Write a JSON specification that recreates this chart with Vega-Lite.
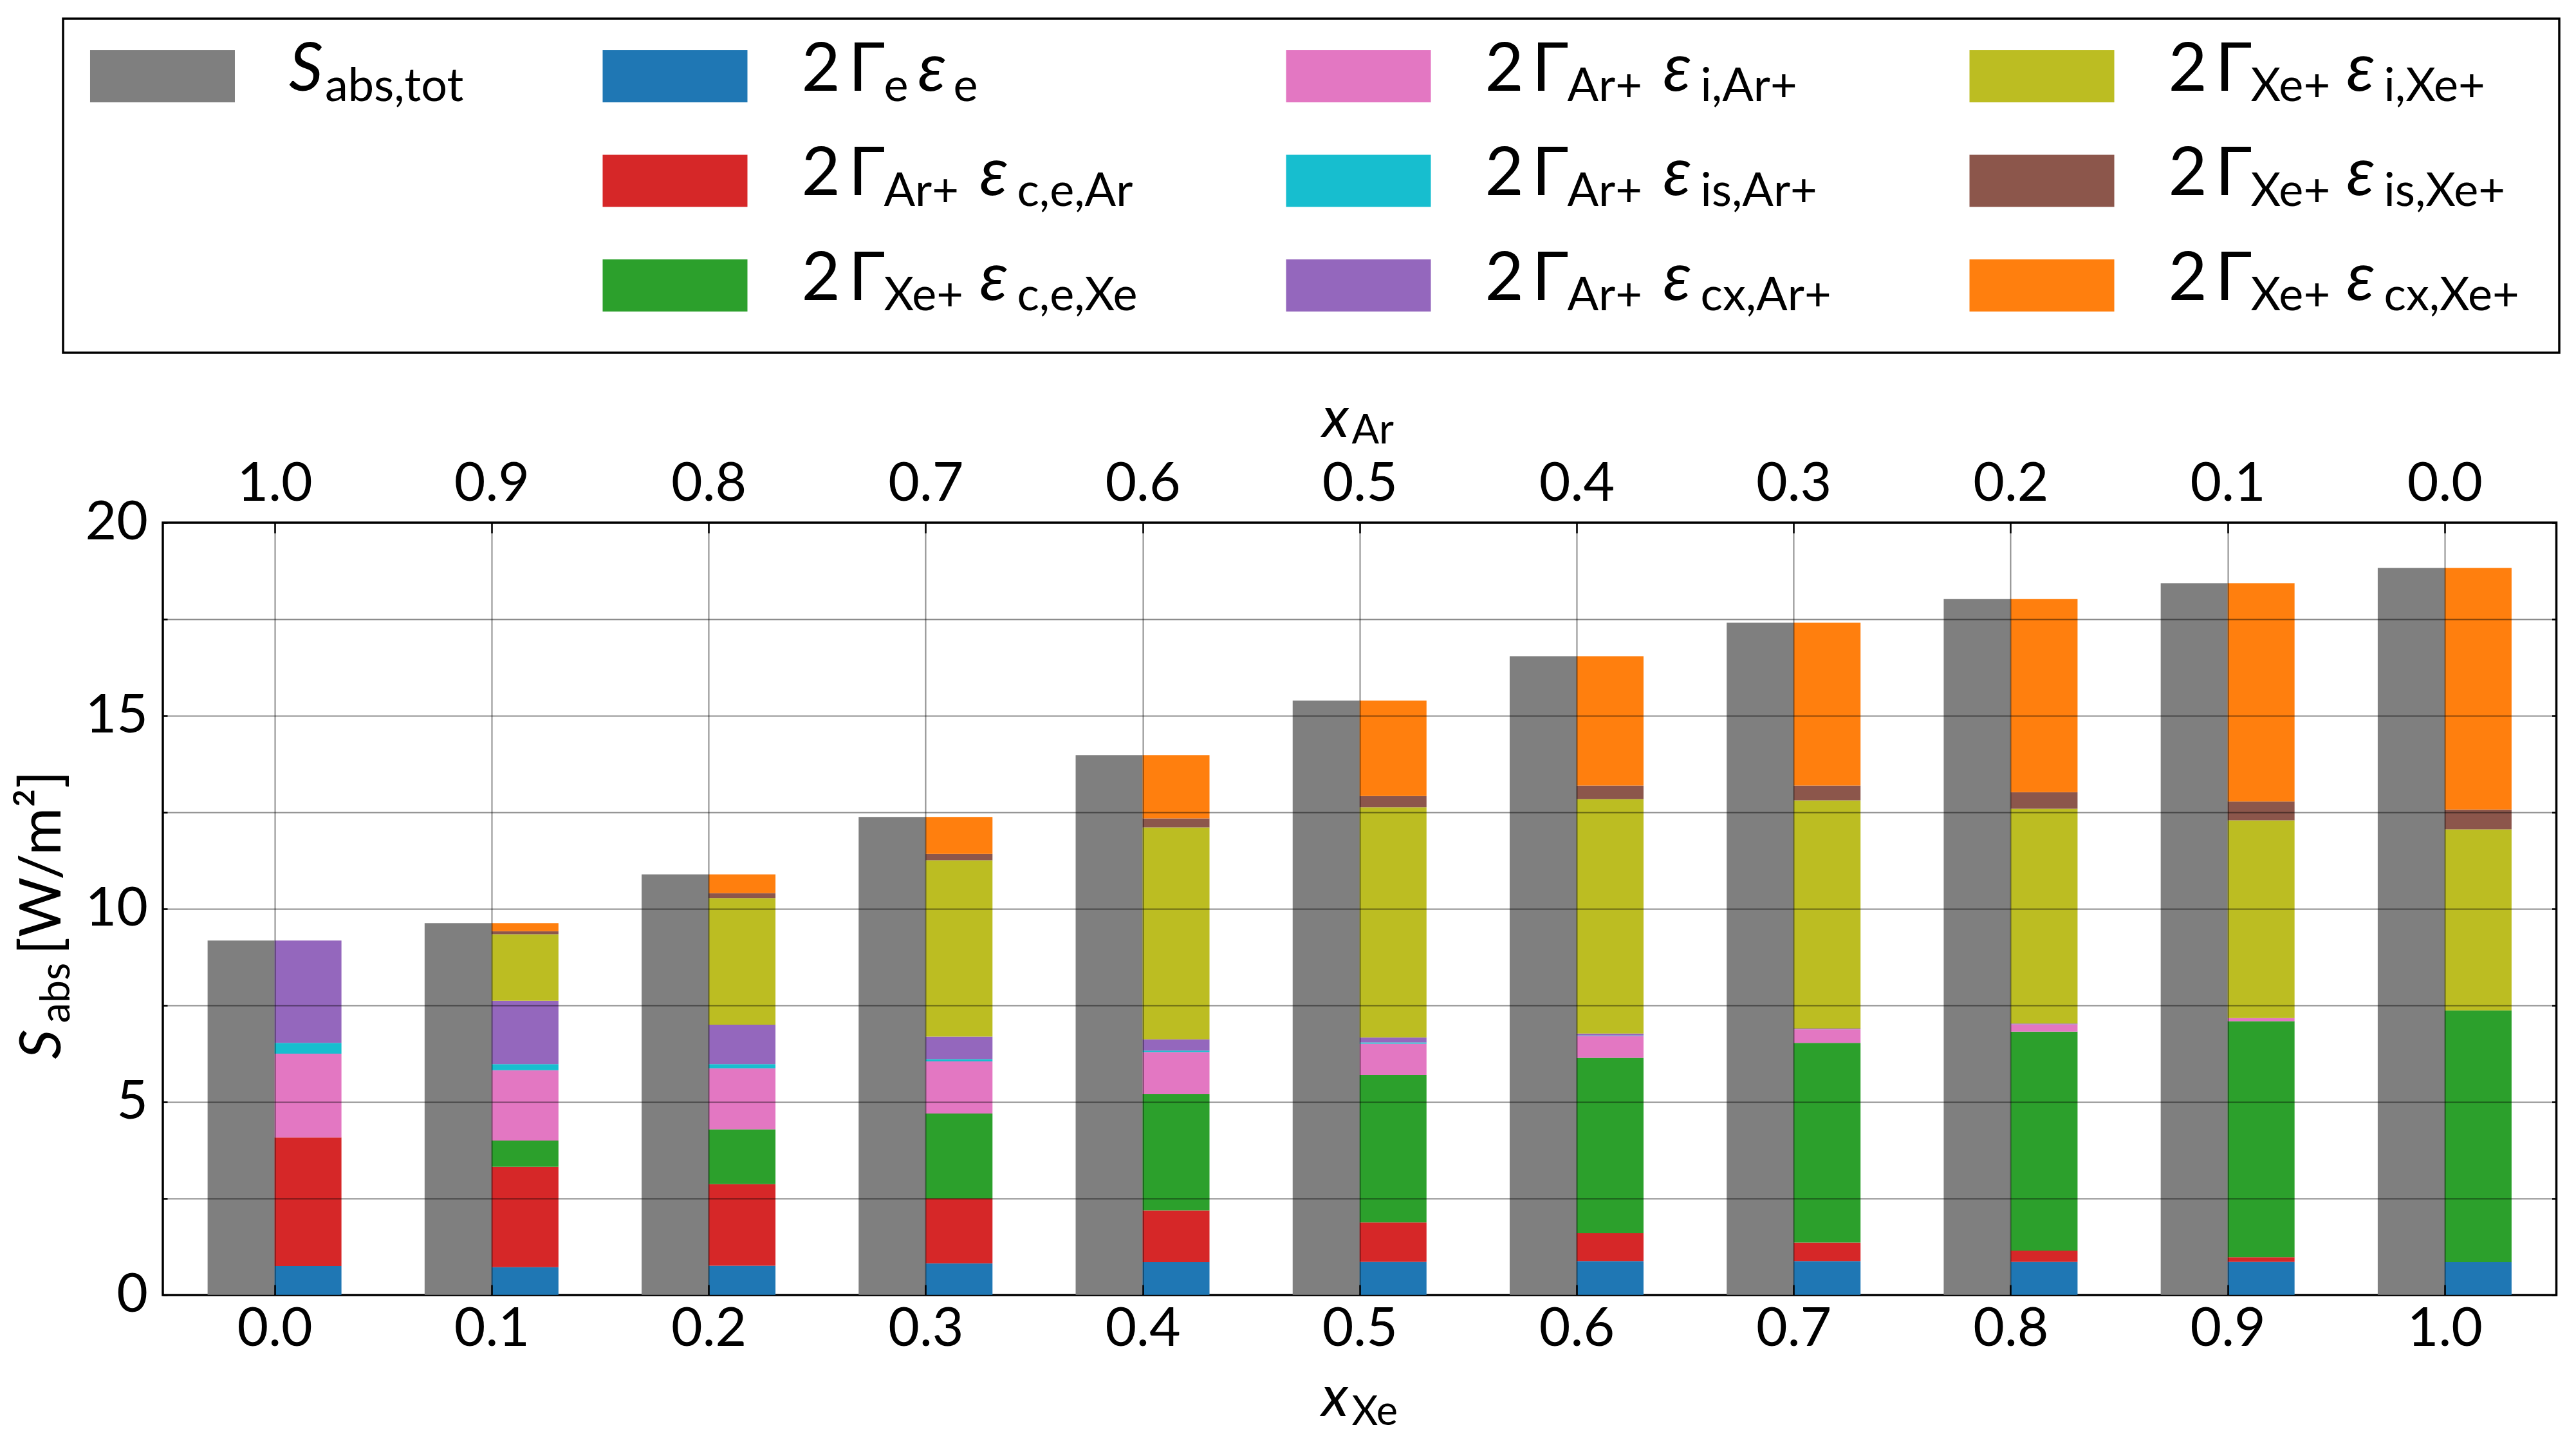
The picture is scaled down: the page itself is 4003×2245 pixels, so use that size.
{
  "$schema": "https://vega.github.io/schema/vega-lite/v6.json",
  "background": "white",
  "padding": {"left": 19, "top": 27, "right": 0, "bottom": 0},
  "spacing": 54,
  "config": {
    "font": "Lato",
    "view": {"stroke": "black", "strokeWidth": 3.5},
    "axis": {"labelColor": "black", "titleColor": "black", "tickColor": "black", "titleFontWeight": "normal", "labelFont": "Lato", "titleFont": "Lato"}
  },
  "datasets": {
    "totals": [
      {"xXe": 0.0, "S": 9.18}, {"xXe": 0.1, "S": 9.63}, {"xXe": 0.2, "S": 10.89},
      {"xXe": 0.3, "S": 12.38}, {"xXe": 0.4, "S": 13.98}, {"xXe": 0.5, "S": 15.39},
      {"xXe": 0.6, "S": 16.54}, {"xXe": 0.7, "S": 17.41}, {"xXe": 0.8, "S": 18.02},
      {"xXe": 0.9, "S": 18.43}, {"xXe": 1.0, "S": 18.83}
    ],
    "parts": [
      {"xXe": 0.0, "term": "e", "S": 0.75}, {"xXe": 0.0, "term": "cEAr", "S": 3.33},
      {"xXe": 0.0, "term": "iAr", "S": 2.17}, {"xXe": 0.0, "term": "isAr", "S": 0.28},
      {"xXe": 0.0, "term": "cxAr", "S": 2.65},
      {"xXe": 0.1, "term": "e", "S": 0.72}, {"xXe": 0.1, "term": "cEAr", "S": 2.60},
      {"xXe": 0.1, "term": "cEXe", "S": 0.68}, {"xXe": 0.1, "term": "iAr", "S": 1.82},
      {"xXe": 0.1, "term": "isAr", "S": 0.16}, {"xXe": 0.1, "term": "cxAr", "S": 1.64},
      {"xXe": 0.1, "term": "iXe", "S": 1.72}, {"xXe": 0.1, "term": "isXe", "S": 0.08},
      {"xXe": 0.1, "term": "cxXe", "S": 0.21},
      {"xXe": 0.2, "term": "e", "S": 0.76}, {"xXe": 0.2, "term": "cEAr", "S": 2.11},
      {"xXe": 0.2, "term": "cEXe", "S": 1.42}, {"xXe": 0.2, "term": "iAr", "S": 1.58},
      {"xXe": 0.2, "term": "isAr", "S": 0.11}, {"xXe": 0.2, "term": "cxAr", "S": 1.02},
      {"xXe": 0.2, "term": "iXe", "S": 3.28}, {"xXe": 0.2, "term": "isXe", "S": 0.13},
      {"xXe": 0.2, "term": "cxXe", "S": 0.48},
      {"xXe": 0.3, "term": "e", "S": 0.82}, {"xXe": 0.3, "term": "cEAr", "S": 1.68},
      {"xXe": 0.3, "term": "cEXe", "S": 2.20}, {"xXe": 0.3, "term": "iAr", "S": 1.35},
      {"xXe": 0.3, "term": "isAr", "S": 0.06}, {"xXe": 0.3, "term": "cxAr", "S": 0.58},
      {"xXe": 0.3, "term": "iXe", "S": 4.57}, {"xXe": 0.3, "term": "isXe", "S": 0.16},
      {"xXe": 0.3, "term": "cxXe", "S": 0.96},
      {"xXe": 0.4, "term": "e", "S": 0.85}, {"xXe": 0.4, "term": "cEAr", "S": 1.34},
      {"xXe": 0.4, "term": "cEXe", "S": 3.01}, {"xXe": 0.4, "term": "iAr", "S": 1.09},
      {"xXe": 0.4, "term": "isAr", "S": 0.04}, {"xXe": 0.4, "term": "cxAr", "S": 0.29},
      {"xXe": 0.4, "term": "iXe", "S": 5.49}, {"xXe": 0.4, "term": "isXe", "S": 0.23},
      {"xXe": 0.4, "term": "cxXe", "S": 1.64},
      {"xXe": 0.5, "term": "e", "S": 0.86}, {"xXe": 0.5, "term": "cEAr", "S": 1.02},
      {"xXe": 0.5, "term": "cEXe", "S": 3.82}, {"xXe": 0.5, "term": "iAr", "S": 0.81},
      {"xXe": 0.5, "term": "isAr", "S": 0.03}, {"xXe": 0.5, "term": "cxAr", "S": 0.13},
      {"xXe": 0.5, "term": "iXe", "S": 5.96}, {"xXe": 0.5, "term": "isXe", "S": 0.29},
      {"xXe": 0.5, "term": "cxXe", "S": 2.47},
      {"xXe": 0.6, "term": "e", "S": 0.88}, {"xXe": 0.6, "term": "cEAr", "S": 0.72},
      {"xXe": 0.6, "term": "cEXe", "S": 4.54}, {"xXe": 0.6, "term": "iAr", "S": 0.57},
      {"xXe": 0.6, "term": "isAr", "S": 0.01}, {"xXe": 0.6, "term": "cxAr", "S": 0.05},
      {"xXe": 0.6, "term": "iXe", "S": 6.07}, {"xXe": 0.6, "term": "isXe", "S": 0.35},
      {"xXe": 0.6, "term": "cxXe", "S": 3.35},
      {"xXe": 0.7, "term": "e", "S": 0.88}, {"xXe": 0.7, "term": "cEAr", "S": 0.48},
      {"xXe": 0.7, "term": "cEXe", "S": 5.17}, {"xXe": 0.7, "term": "iAr", "S": 0.35},
      {"xXe": 0.7, "term": "cxAr", "S": 0.02}, {"xXe": 0.7, "term": "iXe", "S": 5.91},
      {"xXe": 0.7, "term": "isXe", "S": 0.38}, {"xXe": 0.7, "term": "cxXe", "S": 4.22},
      {"xXe": 0.8, "term": "e", "S": 0.86}, {"xXe": 0.8, "term": "cEAr", "S": 0.29},
      {"xXe": 0.8, "term": "cEXe", "S": 5.67}, {"xXe": 0.8, "term": "iAr", "S": 0.19},
      {"xXe": 0.8, "term": "cxAr", "S": 0.02}, {"xXe": 0.8, "term": "iXe", "S": 5.56},
      {"xXe": 0.8, "term": "isXe", "S": 0.43}, {"xXe": 0.8, "term": "cxXe", "S": 5.00},
      {"xXe": 0.9, "term": "e", "S": 0.86}, {"xXe": 0.9, "term": "cEAr", "S": 0.12},
      {"xXe": 0.9, "term": "cEXe", "S": 6.11}, {"xXe": 0.9, "term": "iAr", "S": 0.08},
      {"xXe": 0.9, "term": "iXe", "S": 5.12}, {"xXe": 0.9, "term": "isXe", "S": 0.49},
      {"xXe": 0.9, "term": "cxXe", "S": 5.65},
      {"xXe": 1.0, "term": "e", "S": 0.85}, {"xXe": 1.0, "term": "cEXe", "S": 6.52},
      {"xXe": 1.0, "term": "iXe", "S": 4.69}, {"xXe": 1.0, "term": "isXe", "S": 0.51},
      {"xXe": 1.0, "term": "cxXe", "S": 6.26}
    ],
    "legend": [
      {"term": "tot", "rank": 0, "col": "c1", "row": 1, "s1": "abs,tot", "s2": ""},
      {"term": "e", "rank": 1, "col": "c2", "row": 1, "s1": "e", "s2": "e"},
      {"term": "cEAr", "rank": 2, "col": "c2", "row": 2, "s1": "Ar+", "s2": "c,e,Ar"},
      {"term": "cEXe", "rank": 3, "col": "c2", "row": 3, "s1": "Xe+", "s2": "c,e,Xe"},
      {"term": "iAr", "rank": 4, "col": "c3", "row": 1, "s1": "Ar+", "s2": "i,Ar+"},
      {"term": "isAr", "rank": 5, "col": "c3", "row": 2, "s1": "Ar+", "s2": "is,Ar+"},
      {"term": "cxAr", "rank": 6, "col": "c3", "row": 3, "s1": "Ar+", "s2": "cx,Ar+"},
      {"term": "iXe", "rank": 7, "col": "c4", "row": 1, "s1": "Xe+", "s2": "i,Xe+"},
      {"term": "isXe", "rank": 8, "col": "c4", "row": 2, "s1": "Xe+", "s2": "is,Xe+"},
      {"term": "cxXe", "rank": 9, "col": "c4", "row": 3, "s1": "Xe+", "s2": "cx,Xe+"}
    ]
  },
  "resolve": {"scale": {"x": "independent", "y": "independent"}},
  "vconcat": [
    {
      "width": 3879,
      "height": 519,
      "data": {"name": "legend"},
      "encoding": {
        "x": {"field": "col", "type": "nominal", "axis": null,
              "scale": {"type": "point", "padding": 0.805, "align": 0.3614,
                        "domain": ["c1", "gap1", "gap2", "c2", "gap3", "gap4", "gap5", "c3", "gap6", "gap7", "gap8", "c4", "gap9", "gap10"]}},
        "y": {"field": "row", "type": "ordinal", "axis": null, "scale": {"type": "point", "padding": 0.597, "align": 0.461}}
      },
      "layer": [
        {
          "mark": {"type": "point", "shape": "M-1,-0.36H1V0.36H-1Z", "size": 50625, "filled": true, "opacity": 1, "strokeWidth": 0},
          "encoding": {
            "color": {"field": "term", "type": "nominal", "legend": null,
              "scale": {"domain": ["e", "cEAr", "cEXe", "iAr", "isAr", "cxAr", "iXe", "isXe", "cxXe", "tot"],
                        "range": ["#1f77b4", "#d62728", "#2ca02c", "#e377c2", "#17becf", "#9467bd", "#bcbd22", "#8c564b", "#ff7f0e", "#7f7f7f"]}}
          }
        },
        {
          "transform": [{"filter": "datum.term === 'tot'"}],
          "mark": {"type": "text", "align": "left", "baseline": "alphabetic", "dx": 196.5, "dy": 22.5, "fontSize": 104, "fontStyle": "italic", "color": "black"},
          "encoding": {"text": {"value": "S"}}
        },
        {
          "transform": [{"filter": "datum.term === 'tot'"}],
          "mark": {"type": "text", "align": "left", "baseline": "alphabetic", "dx": 252.5, "dy": 39, "fontSize": 72, "color": "black"},
          "encoding": {"text": {"field": "s1"}}
        },
        {
          "transform": [{"filter": "datum.term !== 'tot'"}],
          "mark": {"type": "text", "align": "left", "baseline": "alphabetic", "dx": 196.5, "dy": 22.5, "fontSize": 104, "color": "black"},
          "encoding": {"text": {"value": "2"}}
        },
        {
          "transform": [{"filter": "datum.term !== 'tot'"}],
          "mark": {"type": "text", "align": "left", "baseline": "alphabetic", "dx": 269.5, "dy": 22.5, "fontSize": 104, "color": "black"},
          "encoding": {"text": {"value": "Γ"}}
        },
        {
          "transform": [{"filter": "datum.term !== 'tot'"}],
          "mark": {"type": "text", "align": "left", "baseline": "alphabetic", "dx": 324.5, "dy": 39, "fontSize": 72, "color": "black"},
          "encoding": {"text": {"field": "s1"}}
        },
        {
          "transform": [{"filter": "datum.term === 'e'"}],
          "mark": {"type": "text", "align": "left", "baseline": "alphabetic", "dx": 377.5, "dy": 22.5, "fontSize": 104, "fontStyle": "italic", "color": "black"},
          "encoding": {"text": {"value": "ε"}}
        },
        {
          "transform": [{"filter": "datum.term === 'e'"}],
          "mark": {"type": "text", "align": "left", "baseline": "alphabetic", "dx": 432.5, "dy": 39, "fontSize": 72, "color": "black"},
          "encoding": {"text": {"field": "s2"}}
        },
        {
          "transform": [{"filter": "datum.term !== 'e' && datum.term !== 'tot'"}],
          "mark": {"type": "text", "align": "left", "baseline": "alphabetic", "dx": 473.5, "dy": 22.5, "fontSize": 104, "fontStyle": "italic", "color": "black"},
          "encoding": {"text": {"value": "ε"}}
        },
        {
          "transform": [{"filter": "datum.term !== 'e' && datum.term !== 'tot'"}],
          "mark": {"type": "text", "align": "left", "baseline": "alphabetic", "dx": 531.5, "dy": 39, "fontSize": 72, "color": "black"},
          "encoding": {"text": {"field": "s2"}}
        }
      ]
    },
    {
      "bounds": "flush",
      "spacing": 0,
      "hconcat": [
        {
          "width": 154.5,
          "height": 1200,
          "view": {"stroke": null},
          "data": {"values": [{}]},
          "mark": {"type": "point", "opacity": 0}
        },
        {
          "width": 3719.5,
          "height": 1200,
          "resolve": {"axis": {"x": "independent", "y": "independent"}},
          "layer": [
            {
              "data": {"name": "totals"},
              "mark": {"type": "bar", "width": 104, "xOffset": -52, "color": "#7f7f7f"},
              "encoding": {
                "x": {"field": "xXe", "type": "quantitative", "scale": {"domain": [-0.05, 1.05], "nice": false, "zero": false},
                      "axis": {"orient": "top", "values": [0, 0.1, 0.2, 0.3, 0.4, 0.5, 0.6, 0.7, 0.8, 0.9, 1.0],
                               "labelExpr": "format(1 - datum.value, '.1f')", "labelFontSize": 84, "labelPadding": 33, "labelFlush": false, "labelOverlap": false,
                               "tickSize": -16, "tickWidth": 2.5, "domain": false, "grid": false,
                               "title": "x", "titleFontSize": 90, "titleFontStyle": "italic", "titleAlign": "left", "titleBaseline": "alphabetic", "titleX": 1801, "titleY": -134}},
                "y": {"field": "S", "type": "quantitative", "scale": {"domain": [0, 20], "nice": false},
                      "axis": {"orient": "right", "values": [0, 2.5, 5, 7.5, 10, 12.5, 15, 17.5, 20], "labels": false, "tickSize": -7, "tickWidth": 2.5, "domain": false, "grid": false, "title": null}}
              }
            },
            {
              "data": {"name": "parts"},
              "transform": [{"lookup": "term", "from": {"data": {"name": "legend"}, "key": "term", "fields": ["rank"]}}],
              "mark": {"type": "bar", "width": 104, "xOffset": 52},
              "encoding": {
                "x": {"field": "xXe", "type": "quantitative", "scale": {"domain": [-0.05, 1.05], "nice": false, "zero": false},
                      "axis": {"orient": "bottom", "values": [0, 0.1, 0.2, 0.3, 0.4, 0.5, 0.6, 0.7, 0.8, 0.9, 1.0],
                               "format": ".1f", "labelFontSize": 84, "labelPadding": 28, "labelFlush": false, "labelOverlap": false,
                               "tickSize": -16, "tickWidth": 2.5, "domain": false,
                               "grid": true, "gridColor": "black", "gridOpacity": 0.45, "gridWidth": 2, "zindex": 1,
                               "title": "x", "titleFontSize": 90, "titleFontStyle": "italic", "titleAlign": "left", "titleBaseline": "alphabetic", "titleX": 1800, "titleY": 187}},
                "y": {"field": "S", "type": "quantitative", "stack": "zero", "scale": {"domain": [0, 20], "nice": false},
                      "axis": {"orient": "left", "values": [0, 2.5, 5, 7.5, 10, 12.5, 15, 17.5, 20],
                               "labelExpr": "datum.value % 5 === 0 ? format(datum.value, 'd') : ''", "labelFontSize": 84, "labelPadding": 30.5,
                               "tickSize": -7, "tickWidth": 2.5, "domain": false,
                               "grid": true, "gridColor": "black", "gridOpacity": 0.45, "gridWidth": 2, "zindex": 1,
                               "title": "S", "titleFontSize": 90, "titleFontStyle": "italic", "titleAngle": 270, "titleAlign": "left", "titleBaseline": "alphabetic", "titleX": -159.5, "titleY": 833}},
                "order": {"field": "rank", "type": "quantitative", "sort": "ascending"},
                "color": {"field": "term", "type": "nominal", "legend": null,
                          "scale": {"domain": ["e", "cEAr", "cEXe", "iAr", "isAr", "cxAr", "iXe", "isXe", "cxXe", "tot"],
                                    "range": ["#1f77b4", "#d62728", "#2ca02c", "#e377c2", "#17becf", "#9467bd", "#bcbd22", "#8c564b", "#ff7f0e", "#7f7f7f"]}}
              }
            },
            {
              "data": {"name": "totals"},
              "mark": {"type": "point", "opacity": 0},
              "encoding": {
                "x": {"field": "xXe", "type": "quantitative", "scale": {"domain": [-0.05, 1.05], "nice": false, "zero": false},
                      "axis": {"orient": "top", "labels": false, "ticks": false, "domain": false, "grid": false,
                               "title": "Ar", "titleFontSize": 63, "titleAlign": "left", "titleBaseline": "alphabetic", "titleX": 1847, "titleY": -124}},
                "y": {"field": "S", "type": "quantitative", "scale": {"domain": [0, 20], "nice": false},
                      "axis": {"orient": "left", "labels": false, "ticks": false, "domain": false, "grid": false,
                               "title": "abs", "titleFontSize": 63, "titleAngle": 270, "titleAlign": "left", "titleBaseline": "alphabetic", "titleX": -145.5, "titleY": 777}}
              }
            },
            {
              "data": {"name": "totals"},
              "mark": {"type": "point", "opacity": 0},
              "encoding": {
                "x": {"field": "xXe", "type": "quantitative", "scale": {"domain": [-0.05, 1.05], "nice": false, "zero": false},
                      "axis": {"orient": "bottom", "labels": false, "ticks": false, "domain": false, "grid": false,
                               "title": "Xe", "titleFontSize": 63, "titleAlign": "left", "titleBaseline": "alphabetic", "titleX": 1847, "titleY": 201}},
                "y": {"field": "S", "type": "quantitative", "scale": {"domain": [0, 20], "nice": false},
                      "axis": {"orient": "left", "labels": false, "ticks": false, "domain": false, "grid": false,
                               "title": "[W/m²]", "titleFontSize": 90, "titleAngle": 270, "titleAlign": "left", "titleBaseline": "alphabetic", "titleX": -159.5, "titleY": 671}}
              }
            }
          ]
        }
      ]
    }
  ]
}
